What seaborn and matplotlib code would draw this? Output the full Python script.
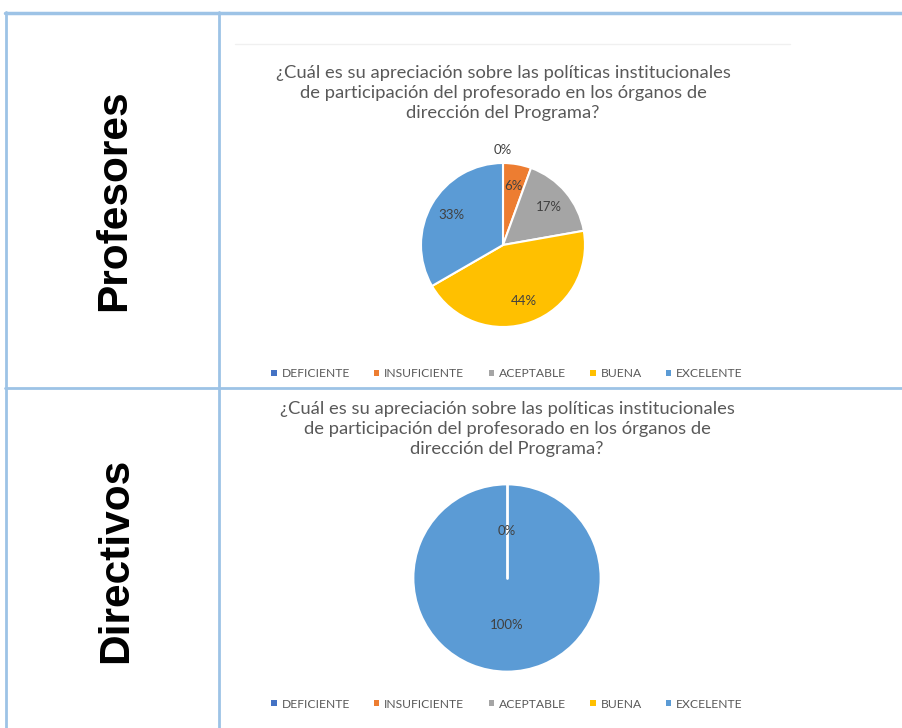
import numpy as np
import seaborn as sns
import matplotlib.pyplot as plt
from matplotlib.lines import Line2D
from matplotlib.patches import Patch

# datos (conteos)
categorias = ['DEFICIENTE', 'INSUFICIENTE', 'ACEPTABLE', 'BUENA', 'EXCELENTE']
profesores = [0, 1, 3, 8, 6]
directivos = [0, 0, 0, 0, 1]
colores = ['#4472C4', '#ED7D31', '#A5A5A5', '#FFC000', '#5B9BD5']
titulo = ('¿Cuál es su apreciación sobre las políticas institucionales\n'
          'de participación del profesorado en los órganos de\n'
          'dirección del Programa?')

sns.set_theme(style='white')
plt.rcParams['font.family'] = ['Lato', 'DejaVu Sans']

W, H = 902, 728
fig = plt.figure(figsize=(W / 100, H / 100), dpi=100)


def px_axes(cx, cy, r):
    return fig.add_axes([(cx - r) / W, (H - cy - r) / H, 2 * r / W, 2 * r / H])


def pie(ax, valores, pctdist, lw):
    wedges, texts, autot = ax.pie(valores, colors=colores, startangle=90,
                                  counterclock=False, autopct='%1.0f%%',
                                  pctdistance=pctdist,
                                  wedgeprops=dict(edgecolor='white', linewidth=lw),
                                  textprops=dict(color='#404040', fontsize=9.5))
    ax.set_xlim(-1, 1)
    ax.set_ylim(-1, 1)
    ax.axis('off')
    return wedges, autot


# tabla
borde = '#9DC3E6'
def linea(x0, y0, x1, y1, lw=2):
    fig.add_artist(Line2D([x0 / W, x1 / W], [1 - y0 / H, 1 - y1 / H],
                          color=borde, linewidth=lw))

linea(5, 13, W, 13, 2.5)
linea(6, 12, 6, H, 2)
linea(219, 12, 219, H, 2)
linea(5, 388, W, 388, 2)
fig.add_artist(Line2D([235 / W, 790 / W], [1 - 44 / H] * 2, color='#F0F0F0', linewidth=1))

fig.text(114 / W, 1 - 200 / H, 'Profesores', rotation=90, ha='center', va='center',
         fontsize=30.5, fontweight='bold', family='Liberation Sans', color='black')
fig.text(116 / W, 1 - 560 / H, 'Directivos', rotation=90, ha='center', va='center',
         fontsize=30.5, fontweight='bold', family='Liberation Sans', color='black')

# grafico profesores
fig.text(503 / W, 1 - 93 / H, titulo, ha='center', va='center', fontsize=13.2,
         color='#595959', linespacing=1.32)
ax1 = px_axes(503, 245, 82)
w1, t1 = pie(ax1, profesores, 0.73, 1.5)
t1[0].set_position((0, 1.16))

# grafico directivos
fig.text(507 / W, 1 - 429 / H, titulo, ha='center', va='center', fontsize=13.2,
         color='#595959', linespacing=1.32)
ax2 = px_axes(507, 578, 94)
w2, t2 = pie(ax2, directivos, 0.5, 2)
ax2.plot([0, 0], [0, 1], color='white', linewidth=2)
for t in t2[1:4]:
    t.set_visible(False)

handles = [Patch(facecolor=c, edgecolor='none') for c in colores]
for y in (374, 704):
    fig.legend(handles, categorias, loc='center', bbox_to_anchor=(507 / W, 1 - y / H),
               ncol=5, frameon=False, fontsize=8.7, handlelength=0.45, handleheight=0.45,
               handletextpad=0.4, columnspacing=2.0, labelcolor='#595959')

plt.savefig('out.png', dpi=100)
